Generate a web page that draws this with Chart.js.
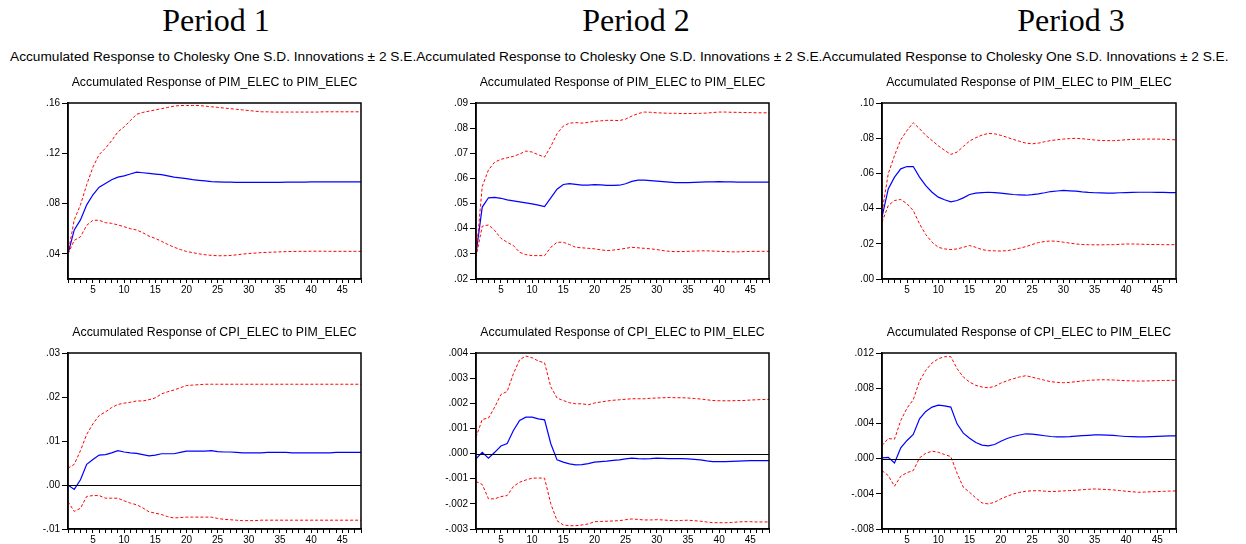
<!DOCTYPE html>
<html>
<head>
<meta charset="utf-8">
<script src="https://cdn.jsdelivr.net/npm/chart.js@4.4.1/dist/chart.umd.min.js"></script>
<style>
  body { margin: 0; background: #fff; width: 1246px; height: 544px; position: relative; overflow: hidden; }
  .period { position: absolute; top: 4px; font: 32px/32px "Liberation Serif", "Times New Roman", serif; color: #000; transform: translateX(-50%); white-space: nowrap; }
  .header { position: absolute; left: 10px; top: 50px; font: 13.7px/14px "Liberation Sans", Arial, sans-serif; color: #000; white-space: nowrap; }
  canvas { position: absolute; }
</style>
</head>
<body>
<div class="period" style="left:216px">Period 1</div>
<div class="period" style="left:636px">Period 2</div>
<div class="period" style="left:1071px">Period 3</div>
<div class="header" id="header"></div>

<canvas id="c1"></canvas>
<canvas id="c2"></canvas>
<canvas id="c3"></canvas>
<canvas id="c4"></canvas>
<canvas id="c5"></canvas>
<canvas id="c6"></canvas>

<script>
// --- data ---
const steps = [1,2,3,4,5,6,7,8,9,10,11,12,13,14,15,16,17,18,19,20,21,22,23,24,
               25,26,27,28,29,30,31,32,33,34,35,36,37,38,39,40,41,42,43,44,45,46,47,48];

const headerText = 'Accumulated Response to Cholesky One S.D. Innovations \u00b1 2 S.E.';
const titlePim = 'Accumulated Response of PIM_ELEC to PIM_ELEC';
const titleCpi = 'Accumulated Response of CPI_ELEC to PIM_ELEC';

// Period 1, PIM_ELEC
const p1PimResp = [0.040,0.059,0.067,0.079,0.087,0.093,0.096,0.099,0.101,0.102,0.1035,0.105,0.1045,0.104,0.1035,0.103,
  0.102,0.101,0.1005,0.0998,0.099,0.0985,0.098,0.0975,0.0972,0.097,0.097,0.0968,0.0968,0.0968,0.0968,0.0968,
  0.0968,0.0969,0.0969,0.097,0.097,0.0971,0.0971,0.0972,0.0972,0.0972,0.0973,0.0973,0.0973,0.0973,0.0973,0.0973];
const p1PimHi = [0.040,0.067,0.079,0.095,0.109,0.119,0.124,0.130,0.137,0.141,0.146,0.151,0.1525,0.1535,0.1545,0.1555,
  0.1565,0.1575,0.158,0.158,0.158,0.158,0.1575,0.157,0.1565,0.156,0.1555,0.155,0.1545,0.154,0.1535,0.153,
  0.153,0.1528,0.1528,0.1528,0.1528,0.1528,0.1528,0.1528,0.1528,0.153,0.153,0.153,0.153,0.153,0.153,0.153];
const p1PimLo = [0.040,0.0507,0.0536,0.0627,0.0667,0.0667,0.0648,0.0643,0.063,0.0616,0.060,0.059,0.0568,0.0541,0.0523,0.050,
  0.0475,0.0453,0.0435,0.0419,0.041,0.040,0.0393,0.0388,0.0385,0.0385,0.0387,0.0392,0.0398,0.0403,0.0406,0.041,
  0.0412,0.0414,0.0416,0.0418,0.0419,0.042,0.042,0.0421,0.0421,0.0421,0.042,0.042,0.042,0.042,0.042,0.042];

// Period 1, CPI_ELEC
const p1CpiResp = [0.0,-0.001,0.0012,0.0047,0.0058,0.0068,0.0069,0.0073,0.0078,0.0075,0.0073,0.0072,0.0069,0.0066,0.0068,0.0071,
  0.0071,0.0071,0.0074,0.0077,0.0077,0.0077,0.0077,0.0078,0.0076,0.0075,0.0075,0.0074,0.0073,0.0073,0.0073,0.0073,
  0.0074,0.0074,0.0074,0.0074,0.0073,0.0073,0.0073,0.0073,0.0073,0.0073,0.0073,0.0074,0.0074,0.0074,0.0074,0.0074];
const p1CpiHi = [0.0038,0.0047,0.0078,0.0115,0.0139,0.0158,0.0166,0.0176,0.0183,0.0186,0.0188,0.0191,0.0191,0.0194,0.0198,0.0207,
  0.0212,0.0216,0.0221,0.0226,0.0227,0.0228,0.0229,0.0229,0.0229,0.0229,0.0229,0.0229,0.0229,0.0229,0.0229,0.0229,
  0.0229,0.0229,0.0229,0.0229,0.0229,0.0229,0.0229,0.0229,0.0229,0.0229,0.0229,0.0229,0.0229,0.0229,0.0229,0.0229];
const p1CpiLo = [-0.0038,-0.006,-0.0053,-0.0026,-0.0024,-0.0024,-0.003,-0.003,-0.003,-0.0036,-0.0041,-0.0045,-0.0052,-0.0061,-0.0064,-0.0067,
  -0.0072,-0.0075,-0.0074,-0.0073,-0.0073,-0.0073,-0.0073,-0.0073,-0.0076,-0.0078,-0.0079,-0.008,-0.0081,-0.0081,-0.0081,-0.008,
  -0.008,-0.008,-0.008,-0.008,-0.008,-0.008,-0.008,-0.008,-0.008,-0.008,-0.008,-0.008,-0.008,-0.008,-0.008,-0.008];

// Period 2, PIM_ELEC
const p2PimResp = [0.030,0.0486,0.0523,0.0525,0.0521,0.0515,0.0511,0.0507,0.0503,0.0499,0.0494,0.0488,0.0523,0.0557,0.0576,0.0579,
  0.0576,0.0573,0.0573,0.0575,0.0574,0.0572,0.0572,0.0573,0.0579,0.0588,0.0593,0.0593,0.0591,0.0589,0.0587,0.0585,
  0.0583,0.0583,0.0583,0.0584,0.0585,0.0586,0.0586,0.0587,0.0586,0.0586,0.0585,0.0585,0.0585,0.0585,0.0585,0.0585];
const p2PimHi = [0.029,0.0568,0.0634,0.0665,0.0676,0.0682,0.0688,0.0697,0.0709,0.0705,0.0694,0.0685,0.0727,0.0778,0.0808,0.082,
  0.0822,0.082,0.0823,0.0827,0.0829,0.0831,0.0831,0.083,0.0836,0.0848,0.0858,0.0864,0.0863,0.0861,0.086,0.0859,
  0.0859,0.0858,0.0858,0.0858,0.0859,0.086,0.0862,0.0864,0.0864,0.0863,0.0863,0.0862,0.0862,0.0861,0.0861,0.0861];
const p2PimLo = [0.0287,0.041,0.0415,0.0393,0.0362,0.0346,0.0333,0.0306,0.0297,0.0293,0.0293,0.0293,0.0326,0.0346,0.0346,0.0337,
  0.0326,0.0324,0.0322,0.032,0.0316,0.0313,0.0315,0.0318,0.0322,0.0326,0.0324,0.0322,0.032,0.0317,0.0313,0.031,
  0.0309,0.0309,0.031,0.0311,0.0312,0.0312,0.0311,0.031,0.0309,0.0308,0.0308,0.0309,0.031,0.031,0.031,0.031];

// Period 2, CPI_ELEC
const p2CpiResp = [-0.00021,0.00005,-0.00018,0.00005,0.0003,0.0004,0.00092,0.00132,0.00145,0.00145,0.00138,0.00134,0.00039,-0.00025,-0.00034,-0.00041,
  -0.00045,-0.00044,-0.0004,-0.00034,-0.00032,-0.0003,-0.00027,-0.00025,-0.00021,-0.00018,-0.0002,-0.00021,-0.0002,-0.00018,-0.00019,-0.0002,
  -0.0002,-0.0002,-0.00021,-0.00023,-0.00025,-0.00029,-0.00032,-0.00032,-0.00032,-0.00031,-0.0003,-0.00029,-0.00028,-0.00028,-0.00028,-0.00028];
const p2CpiHi = [0.00065,0.00136,0.00141,0.00185,0.00235,0.00247,0.00318,0.00373,0.00388,0.00381,0.00368,0.00361,0.00265,0.00221,0.00211,0.00202,
  0.00198,0.00198,0.00194,0.00201,0.00205,0.00209,0.00212,0.00214,0.00216,0.00218,0.00218,0.00218,0.0022,0.00221,0.00222,0.00223,
  0.00222,0.00222,0.00221,0.00219,0.00217,0.00214,0.00211,0.0021,0.0021,0.0021,0.00211,0.00211,0.00213,0.00214,0.00215,0.00215];
const p2CpiLo = [-0.00111,-0.00123,-0.0018,-0.0018,-0.00171,-0.00167,-0.00131,-0.00114,-0.00105,-0.00098,-0.00097,-0.00098,-0.002,-0.00267,-0.00284,-0.00287,
  -0.00287,-0.00284,-0.0028,-0.00271,-0.0027,-0.00269,-0.00268,-0.00267,-0.00263,-0.0026,-0.00262,-0.00264,-0.00264,-0.00263,-0.00264,-0.00266,
  -0.00267,-0.00266,-0.00265,-0.00267,-0.00269,-0.00272,-0.00275,-0.00275,-0.00275,-0.00274,-0.00272,-0.00271,-0.00271,-0.00272,-0.00272,-0.00272];

// Period 3, PIM_ELEC
const p3PimResp = [0.0351,0.0512,0.0579,0.0626,0.0639,0.0639,0.0579,0.0531,0.0493,0.0465,0.045,0.0438,0.0446,0.0461,0.048,0.0488,
  0.0491,0.0493,0.0491,0.0488,0.0484,0.048,0.0478,0.0476,0.0479,0.0484,0.049,0.0497,0.05,0.0503,0.0501,0.0499,
  0.0495,0.0492,0.049,0.0489,0.0488,0.0488,0.049,0.0491,0.0492,0.0493,0.0493,0.0493,0.0492,0.0492,0.0491,0.0491];
const p3PimHi = [0.038,0.0598,0.0702,0.0791,0.0844,0.0888,0.0854,0.0816,0.0787,0.0757,0.0731,0.0708,0.0721,0.0753,0.0784,0.0803,
  0.0818,0.0827,0.0825,0.0816,0.0805,0.0793,0.0782,0.0772,0.0768,0.0772,0.078,0.0787,0.0791,0.0795,0.0798,0.0799,
  0.0797,0.0793,0.079,0.0787,0.0786,0.0786,0.0788,0.0791,0.0793,0.0794,0.0795,0.0795,0.0795,0.0794,0.0792,0.0791];
const p3PimLo = [0.0323,0.0417,0.0446,0.0452,0.0427,0.0389,0.0313,0.0252,0.0209,0.018,0.0171,0.0167,0.0171,0.018,0.019,0.018,
  0.0167,0.0161,0.016,0.0159,0.0161,0.0167,0.0175,0.0184,0.0196,0.0207,0.0213,0.0216,0.0214,0.0209,0.0204,0.0199,
  0.0196,0.0195,0.0194,0.0194,0.0195,0.0195,0.0197,0.0199,0.0199,0.0198,0.0197,0.0196,0.0196,0.0195,0.0195,0.0195];

// Period 3, CPI_ELEC
const p3CpiResp = [0.00008,0.00015,-0.0005,0.00122,0.00206,0.00274,0.00452,0.00536,0.00585,0.00608,0.006,0.00585,0.00395,0.00289,0.00232,0.00183,
  0.00153,0.00145,0.0016,0.00198,0.00228,0.00251,0.00268,0.00282,0.00278,0.0027,0.0026,0.00251,0.00248,0.00247,0.0025,0.00255,
  0.0026,0.00265,0.0027,0.0027,0.00267,0.00263,0.00257,0.00251,0.00249,0.00247,0.00248,0.0025,0.00253,0.00256,0.00258,0.00259];
const p3CpiHi = [0.00149,0.00228,0.00221,0.00433,0.00574,0.00669,0.00881,0.01003,0.01086,0.01135,0.01158,0.01158,0.01022,0.00927,0.0087,0.00832,
  0.00813,0.00805,0.0082,0.00858,0.00885,0.00908,0.00928,0.00942,0.00925,0.00908,0.0089,0.00874,0.00866,0.00862,0.00866,0.00874,
  0.00882,0.00889,0.00893,0.00896,0.00895,0.00893,0.00889,0.00885,0.00883,0.00881,0.00882,0.00884,0.00886,0.00888,0.00889,0.00889];
const p3CpiLo = [-0.00136,-0.00193,-0.00314,-0.002,-0.00159,-0.00136,0.00008,0.00061,0.00084,0.00072,0.00046,0.00023,-0.00166,-0.00326,-0.00383,-0.00447,
  -0.00504,-0.00515,-0.00496,-0.00458,-0.00428,-0.00401,-0.00384,-0.00371,-0.00366,-0.00364,-0.0037,-0.00375,-0.00371,-0.00367,-0.00363,-0.0036,
  -0.00354,-0.00349,-0.00345,-0.00348,-0.00352,-0.00356,-0.00363,-0.00371,-0.00377,-0.00383,-0.0038,-0.00377,-0.00375,-0.00372,-0.00369,-0.00367];

// y tick values per panel
const p1PimTicks = [0.04, 0.08, 0.12, 0.16];
const p1CpiTicks = [-0.01, 0.00, 0.01, 0.02, 0.03];
const p2PimTicks = [0.02, 0.03, 0.04, 0.05, 0.06, 0.07, 0.08, 0.09];
const p2CpiTicks = [-0.003, -0.002, -0.001, 0.000, 0.001, 0.002, 0.003, 0.004];
const p3PimTicks = [0.00, 0.02, 0.04, 0.06, 0.08, 0.10];
const p3CpiTicks = [-0.008, -0.004, 0.000, 0.004, 0.008, 0.012];

const xLabelEvery = 5;

// --- layout ---
const PAD_L = 2, PAD_T = 30, PAD_R = 12, Y_W = 60, X_H = 22, PLOT_H = 176;
const panels = [
  { id: 'c1', left: 68,  top: 103, w: 293, title: titlePim, resp: p1PimResp, lo: p1PimLo, hi: p1PimHi, ticks: p1PimTicks, min: 0.02,   max: 0.16,  dec: 2, zero: false },
  { id: 'c2', left: 476, top: 103, w: 293, title: titlePim, resp: p2PimResp, lo: p2PimLo, hi: p2PimHi, ticks: p2PimTicks, min: 0.02,   max: 0.09,  dec: 2, zero: false },
  { id: 'c3', left: 882, top: 103, w: 294, title: titlePim, resp: p3PimResp, lo: p3PimLo, hi: p3PimHi, ticks: p3PimTicks, min: 0.0,    max: 0.10,  dec: 2, zero: false },
  { id: 'c4', left: 68,  top: 353, w: 293, title: titleCpi, resp: p1CpiResp, lo: p1CpiLo, hi: p1CpiHi, ticks: p1CpiTicks, min: -0.01,  max: 0.03,  dec: 2, zero: true },
  { id: 'c5', left: 476, top: 353, w: 293, title: titleCpi, resp: p2CpiResp, lo: p2CpiLo, hi: p2CpiHi, ticks: p2CpiTicks, min: -0.003, max: 0.004, dec: 3, zero: true },
  { id: 'c6', left: 882, top: 353, w: 294, title: titleCpi, resp: p3CpiResp, lo: p3CpiLo, hi: p3CpiHi, ticks: p3CpiTicks, min: -0.008, max: 0.012, dec: 3, zero: true }
];

document.getElementById('header').textContent = headerText + headerText + headerText;

const FONT = '"Liberation Sans", Arial, sans-serif';

// EViews style: ".04", "-.003"
function evFormat(v, dec) {
    const s = Math.abs(v).toFixed(dec).replace(/^0/, '');
    return (v < 0 && Math.abs(v) > 1e-12 ? '-' : '') + s;
}

// frame, zero line and the panel title
const framePlugin = {
    id: 'frame',
    afterDatasetsDraw(chart, args, opts) {
        const { ctx, chartArea: a, scales } = chart;
        ctx.save();
        if (opts.zero) {
            const y0 = Math.round(scales.y.getPixelForValue(0)) + 0.5;
            ctx.strokeStyle = '#000';
            ctx.lineWidth = 1;
            ctx.beginPath();
            ctx.moveTo(a.left, y0);
            ctx.lineTo(a.right, y0);
            ctx.stroke();
        }
        ctx.strokeStyle = '#000';
        ctx.lineWidth = 1.5;
        ctx.strokeRect(a.left, a.top, a.right - a.left, a.bottom - a.top);
        ctx.fillStyle = '#000';
        ctx.font = '12.3px ' + FONT;
        ctx.textAlign = 'center';
        ctx.textBaseline = 'alphabetic';
        ctx.fillText(opts.title, (a.left + a.right) / 2, a.top - 17);
        ctx.restore();
    }
};

function toPoints(arr) {
    return steps.map((s, i) => ({ x: s, y: arr[i] }));
}

panels.forEach(p => {
    const canvas = document.getElementById(p.id);
    const cw = PAD_L + Y_W + p.w + PAD_R;
    const ch = PAD_T + PLOT_H + X_H;
    canvas.style.left = (p.left - PAD_L - Y_W) + 'px';
    canvas.style.top = (p.top - PAD_T) + 'px';
    canvas.style.width = cw + 'px';
    canvas.style.height = ch + 'px';
    canvas.width = cw;
    canvas.height = ch;

    new Chart(canvas.getContext('2d'), {
        type: 'line',
        data: {
            datasets: [
                { data: toPoints(p.hi), borderColor: '#ff0000', borderWidth: 1, borderDash: [3, 2], pointRadius: 0, tension: 0, fill: false },
                { data: toPoints(p.lo), borderColor: '#ff0000', borderWidth: 1, borderDash: [3, 2], pointRadius: 0, tension: 0, fill: false },
                { data: toPoints(p.resp), borderColor: '#0000ff', borderWidth: 1.2, pointRadius: 0, tension: 0, fill: false }
            ]
        },
        options: {
            responsive: false,
            animation: false,
            events: [],
            layout: { padding: { left: PAD_L, top: PAD_T, right: PAD_R, bottom: 0 } },
            scales: {
                x: {
                    type: 'linear',
                    min: steps[0],
                    max: steps[steps.length - 1],
                    afterBuildTicks: scale => { scale.ticks = steps.map(v => ({ value: v })); },
                    afterFit: scale => { scale.height = X_H; },
                    ticks: {
                        autoSkip: false,
                        maxRotation: 0,
                        padding: 1,
                        color: '#000',
                        font: { family: FONT, size: 10 },
                        callback: v => (v % xLabelEvery === 0 ? String(v) : '')
                    },
                    grid: { drawOnChartArea: false, drawTicks: true, tickLength: 4, color: '#000' },
                    border: { display: true, color: '#000', width: 1.5 }
                },
                y: {
                    type: 'linear',
                    min: p.min,
                    max: p.max,
                    afterBuildTicks: scale => { scale.ticks = p.ticks.map(v => ({ value: v })); },
                    afterFit: scale => { scale.width = Y_W; },
                    ticks: {
                        padding: 2,
                        color: '#000',
                        font: { family: FONT, size: 10 },
                        callback: v => evFormat(v, p.dec)
                    },
                    grid: { drawOnChartArea: false, drawTicks: true, tickLength: 6, color: '#000' },
                    border: { display: true, color: '#000', width: 1.5 }
                }
            },
            plugins: {
                legend: { display: false },
                tooltip: { enabled: false },
                title: { display: false },
                frame: { zero: p.zero, title: p.title }
            }
        },
        plugins: [framePlugin]
    });
});
</script>
</body>
</html>
